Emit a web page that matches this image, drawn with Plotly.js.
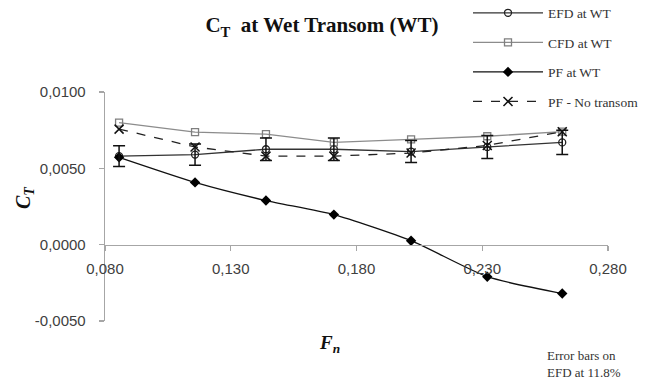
<!DOCTYPE html>
<html>
<head>
<meta charset="utf-8">
<script src="https://cdn.plot.ly/plotly-3.0.1.min.js"></script>
<style>html,body{margin:0;padding:0;background:#fff;}#chart{width:647px;height:381px;}</style>
</head>
<body>
<div id="chart"></div>
<script>
// Froude numbers
var fn = [0.0856, 0.1158, 0.1440, 0.1710, 0.2017, 0.2320, 0.2618];
// Series
var efd = [0.0058, 0.0059, 0.00625, 0.00625, 0.0061, 0.0064, 0.0067];
var cfd = [0.0080, 0.00737, 0.00724, 0.0067, 0.0069, 0.0071, 0.0074];
var pf = [0.00572, 0.00408, 0.00289, 0.00197, 0.00026, -0.0021, -0.0032];
var pfNoTransom = [0.00757, 0.0064, 0.0058, 0.0058, 0.0060, 0.0065, 0.0074];
var errorPercent = 11.8;
// Tick labels
var xTickVals = [0.080, 0.130, 0.180, 0.230, 0.280];
var xTickText = ['0,080', '0,130', '0,180', '0,230', '0,280'];
var yTickVals = [-0.005, 0, 0.005, 0.010];
var yTickText = ['-0,0050', '0,0000', '0,0050', '0,0100'];

var serif = 'Liberation Serif, Times New Roman, serif';
var sans = 'Liberation Sans, Arial, sans-serif';

var traces = [
  {x: fn, y: efd, name: 'EFD at WT', mode: 'lines+markers', legendgroup: 'a',
   line: {color: '#333333', width: 1.3},
   marker: {symbol: 'circle-open', size: 7, color: '#222', line: {width: 1.3}}},
  {x: fn, y: cfd, name: 'CFD at WT', mode: 'lines+markers', legendgroup: 'b',
   line: {color: '#8c8c8c', width: 1.3},
   marker: {symbol: 'square-open', size: 7, color: '#7f7f7f', line: {width: 1.3}}},
  {x: fn, y: pf, name: 'PF at WT', mode: 'lines+markers', legendgroup: 'c',
   line: {color: '#111', width: 1.3, shape: 'spline', smoothing: 0.6},
   marker: {symbol: 'diamond', size: 8, color: '#000'}},
  {x: fn, y: pfNoTransom, name: 'PF - No transom', mode: 'lines+markers', legendgroup: 'd',
   line: {color: '#222', width: 1.3, dash: 'dash'},
   marker: {symbol: 'x-thin-open', size: 9, color: '#111', line: {width: 1.5, color: '#111'}}},
  {x: fn, y: efd, name: 'EFD error', mode: 'markers', showlegend: false,
   marker: {size: 1, color: 'rgba(0,0,0,0)'},
   error_y: {type: 'percent', value: errorPercent, color: '#111', thickness: 1.5, width: 6}}
];

function px2x(p){ return (p - 105) / 503; }
function py2y(p){ return (321 - p) / 229; }

var layout = {
  width: 647, height: 381,
  margin: {l: 105, r: 39, t: 92, b: 60, autoexpand: false},
  paper_bgcolor: '#fff', plot_bgcolor: 'rgba(0,0,0,0)',
  separators: ',.',
  showlegend: true,
  title: {text: '<b>C<sub>T</sub>  at Wet Transom (WT)</b>', font: {family: serif, size: 21, color: '#111'},
          x: 322/647, xanchor: 'center', y: 1 - 25/381, yanchor: 'middle'},
  legend: {x: px2x(468), xanchor: 'left', y: py2y(-2.5), yanchor: 'top',
           font: {family: serif, size: 13.5, color: '#333'},
           bgcolor: 'rgba(0,0,0,0)', tracegroupgap: 9, itemwidth: 70},
  xaxis: {range: [0.080, 0.280], anchor: 'free', position: 1/3,
          tickvals: xTickVals, ticktext: xTickText,
          showline: true, linecolor: '#a6a6a6', linewidth: 1.3,
          ticks: 'outside', ticklen: 5, tickcolor: '#a6a6a6', tickwidth: 1.3,
          ticklabelstandoff: 5,
          showgrid: false, zeroline: false,
          tickfont: {family: sans, size: 15, color: '#404040'},
          title: {text: ''}},
  yaxis: {range: [-0.005, 0.010],
          tickvals: yTickVals, ticktext: yTickText,
          showline: true, linecolor: '#a6a6a6', linewidth: 1.3,
          ticks: 'outside', ticklen: 5, tickcolor: '#a6a6a6', tickwidth: 1.3,
          ticklabelstandoff: 10,
          showgrid: false, zeroline: false,
          tickfont: {family: sans, size: 15, color: '#404040'},
          title: {text: ''}},
  annotations: [
    {x: px2x(24), y: py2y(198), xanchor: 'center', yanchor: 'middle',
     text: '<b><i>C<sub>T</sub></i></b>', showarrow: false,
     textangle: -90, font: {family: serif, size: 20, color: '#111'}},
    {x: px2x(329), y: py2y(344), xanchor: 'center', yanchor: 'middle',
     text: '<b><i>F<sub>n</sub></i></b>', showarrow: false,
     font: {family: serif, size: 19, color: '#111'}},
    {x: px2x(545), y: py2y(364), xanchor: 'left', yanchor: 'middle',
     text: 'Error bars on<br>EFD at 11.8%', showarrow: false, align: 'left',
     font: {family: serif, size: 13, color: '#333'}}
  ]
};
layout.annotations.forEach(function(a){ a.xref = 'paper'; a.yref = 'paper'; });

Plotly.newPlot('chart', traces, layout, {displayModeBar: false, staticPlot: true});
</script>
</body>
</html>
